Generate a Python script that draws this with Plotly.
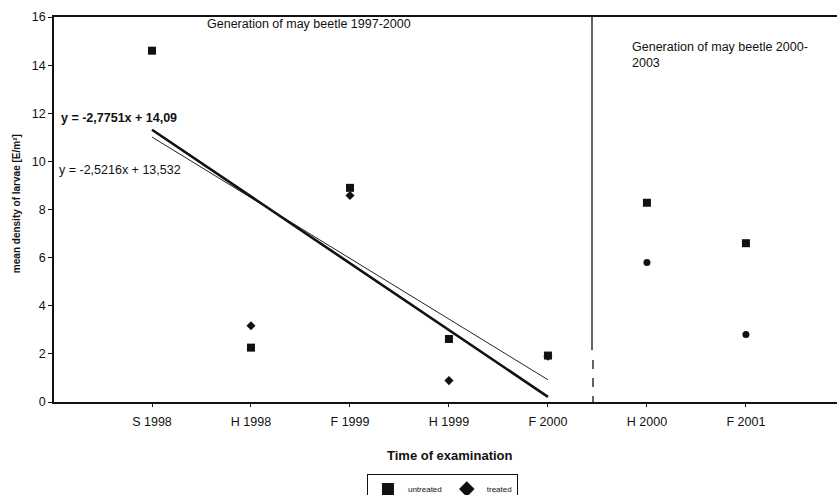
import plotly.graph_objects as go

categories = ["S 1998", "H 1998", "F 1999", "H 1999", "F 2000", "H 2000", "F 2001"]
untreated = [14.6, 2.26, 8.9, 2.62, 1.93, 8.28, 6.6]
treated = [14.6, 3.17, 8.58, 0.89, 1.9, 5.8, 2.81]
treated_symbols = ["diamond"] * 5 + ["circle"] * 2
y_ticks = [0, 2, 4, 6, 8, 10, 12, 14, 16]

# trend lines (coefficients from the chart text), over generation 1997-2000
fit_treated = (-2.7751, 14.09)
fit_untreated = (-2.5216, 13.532)
fit_x = [1, 5]

xpos = list(range(1, len(categories) + 1))
FONT = "Liberation Sans, Arial, sans-serif"
FS = 12.5

fig = go.Figure()

# thin trend line (untreated)
fig.add_trace(go.Scatter(
    x=fit_x, y=[fit_untreated[0] * v + fit_untreated[1] for v in fit_x],
    mode="lines", line=dict(color="#222", width=1), showlegend=False, hoverinfo="skip"))
# thick trend line (treated)
fig.add_trace(go.Scatter(
    x=fit_x, y=[fit_treated[0] * v + fit_treated[1] for v in fit_x],
    mode="lines", line=dict(color="#111", width=2.6), showlegend=False, hoverinfo="skip"))

fig.add_trace(go.Scatter(
    x=xpos, y=treated, mode="markers", name="treated", legendrank=2,
    marker=dict(symbol=treated_symbols, size=[6, 7, 7, 7, 7, 7, 7], color="#111", opacity=1,
                line=dict(width=0))))
fig.add_trace(go.Scatter(
    x=xpos, y=untreated, mode="markers", name="untreated", legendrank=1,
    marker=dict(symbol="square", size=8, color="#111", opacity=1, line=dict(width=0))))

fig.update_layout(
    width=837, height=495,
    margin=dict(l=54, r=0, t=17, b=93, autoexpand=False),
    paper_bgcolor="white", plot_bgcolor="white",
    font=dict(family=FONT, size=FS, color="#111"),
    showlegend=True,
    legend=dict(orientation="h", x=0.3997, y=-0.186, xanchor="left", yanchor="top",
                bordercolor="#111", borderwidth=1, font=dict(size=8, family=FONT),
                itemwidth=30, itemsizing="constant"),
    xaxis=dict(range=[0.01, 7.92], tickmode="array", tickvals=xpos, ticktext=categories,
               showgrid=False, zeroline=False, showline=True, linecolor="#111", linewidth=1.5,
               mirror=True, ticks="outside", ticklen=3, tickcolor="#111",
               ticklabelstandoff=4, tickfont=dict(size=FS, family=FONT)),
    yaxis=dict(range=[0, 16], tickvals=y_ticks, showgrid=False, zeroline=False,
               showline=True, linecolor="#111", linewidth=1.5, ticks="outside", ticklen=4,
               tickcolor="#111", tickfont=dict(size=FS, family=FONT)),
)

# separator between generations
fig.add_shape(type="line", xref="x", yref="y", x0=5.445, x1=5.445, y0=16, y1=2.15,
              line=dict(color="#111", width=1.3))
fig.add_shape(type="line", xref="x", yref="y", x0=5.455, x1=5.455, y0=1.75, y1=0,
              line=dict(color="#111", width=1.3, dash="dash"))

ann = [
    dict(x=0.193, y=0.982, text="Generation of may beetle 1997-2000", xanchor="left"),
    dict(x=0.7356, y=0.901, text="Generation of may beetle 2000-<br>2003", xanchor="left", align="left"),
    dict(x=0.0064, y=0.738, text="<b>y = -2,7751x + 14,09</b>", xanchor="left"),
    dict(x=0.004, y=0.603, text="y = -2,5216x + 13,532", xanchor="left"),
]
for a in ann:
    fig.add_annotation(xref="paper", yref="paper", yanchor="middle", showarrow=False,
                       font=dict(size=FS, family=FONT, color="#111"), **a)

fig.add_annotation(xref="paper", yref="paper", x=0.506, y=-0.138, yanchor="middle",
                   text="<b>Time of examination</b>", showarrow=False,
                   font=dict(size=13, family=FONT))
fig.add_annotation(xref="paper", yref="paper", x=-0.0485, y=0.514, xanchor="center",
                   yanchor="middle",
                   text="<b>mean density of larvae [E/m²]</b>", textangle=-90, showarrow=False,
                   font=dict(size=10, family=FONT))

fig.write_html("out.html")
